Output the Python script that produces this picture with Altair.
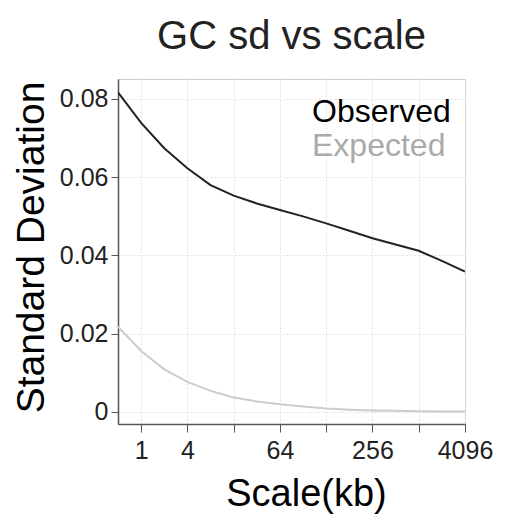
import altair as alt
import pandas as pd

# Scale steps (each step doubles the window size), and standard deviation of GC content
step = list(range(16))
observed = [0.0817, 0.0739, 0.0674, 0.0623, 0.0580, 0.0553, 0.0533, 0.0516,
            0.0500, 0.0482, 0.0463, 0.0444, 0.0428, 0.0412, 0.0386, 0.0359]
expected = [0.0218, 0.0156, 0.0109, 0.0077, 0.0054, 0.0037, 0.0027, 0.0020,
            0.0014, 0.0009, 0.0006, 0.0004, 0.0003, 0.0002, 0.0001, 0.0001]

# Axis ticks on the x axis (blank text = unlabeled tick)
tick_pos = [1, 3, 5, 7, 9, 11, 13, 15]
tick_text = ["1", "4", "", "64", "", "256", "", "4096"]
y_ticks = [0, 0.02, 0.04, 0.06, 0.08]

series = ["Observed", "Expected"]
colors = ["#222222", "#cccccc"]

df = pd.DataFrame({
    "step": step * 2,
    "sd": observed + expected,
    "series": ["Observed"] * len(step) + ["Expected"] * len(step),
})

label_map = "{" + ",".join(f"'{p}':'{t}'" for p, t in zip(tick_pos, tick_text)) + "}"
FONT = "Liberation Sans"

lines = alt.Chart(df).mark_line(strokeWidth=2, clip=True).encode(
    x=alt.X("step:Q",
            scale=alt.Scale(domain=[0, 15], nice=False, zero=False),
            axis=alt.Axis(values=tick_pos, labelExpr=f"{label_map}[datum.value]",
                          title="Scale(kb)", tickSize=8, labelPadding=6,
                          titlePadding=12, labelFontSize=25, titleFontSize=38,
                          titleX=188, titleAlign="center", labelFlush=False)),
    y=alt.Y("sd:Q",
            scale=alt.Scale(domain=[-0.00307, 0.0851], nice=False, zero=False),
            axis=alt.Axis(values=y_ticks,
                          labelExpr="datum.value == 0 ? '0' : format(datum.value, '.2f')",
                          title="Standard Deviation", tickSize=7, labelPadding=3,
                          titlePadding=8, labelFontSize=25, titleFontSize=39,
                          titleY=168, titleAlign="center")),
    color=alt.Color("series:N", scale=alt.Scale(domain=series, range=colors), legend=None),
    detail="series:N",
)

# Text legend in the upper right corner, coloured like the lines
legend_obs = alt.Chart(pd.DataFrame({"t": [series[0]]})).mark_text(
    align="left", baseline="alphabetic", fontSize=32, font=FONT, color="#000000"
).encode(x=alt.value(194), y=alt.value(43), text="t:N")
legend_exp = alt.Chart(pd.DataFrame({"t": [series[1]]})).mark_text(
    align="left", baseline="alphabetic", fontSize=32, font=FONT, color="#aaaaaa"
).encode(x=alt.value(194), y=alt.value(77), text="t:N")

chart = alt.layer(lines, legend_obs, legend_exp).properties(
    width=347, height=345,
    background="white",
    title=alt.TitleParams("GC sd vs scale", fontSize=40, font=FONT, color="#222222",
                          fontWeight="normal", offset=22),
    autosize=alt.AutoSizeParams(type="none"),
    padding={"left": 118, "top": 79, "right": 40, "bottom": 95},
).configure_view(
    stroke="#cccccc", strokeWidth=1
).configure_axis(
    labelFont=FONT, titleFont=FONT, labelColor="#222222", titleColor="#000000",
    titleFontWeight="normal", domainColor="#555555", domainWidth=1.5,
    tickColor="#555555", tickWidth=1, gridColor="#e0e0e0", gridDash=[2, 2],
    gridWidth=1,
)

chart.save("out.html", embed_options={"renderer": "svg", "actions": False})
